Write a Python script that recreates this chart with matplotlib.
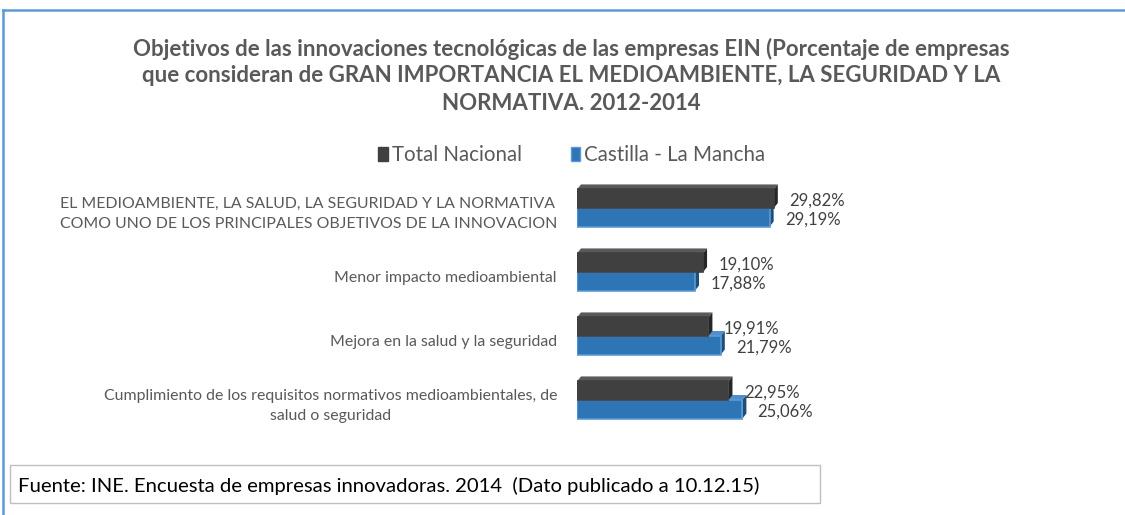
import matplotlib.pyplot as plt
from matplotlib.patches import Polygon, Rectangle, Patch
from matplotlib.lines import Line2D
from matplotlib.transforms import ScaledTranslation

categorias = [
    "EL MEDIOAMBIENTE, LA SALUD, LA SEGURIDAD Y LA NORMATIVA\nCOMO UNO DE LOS PRINCIPALES OBJETIVOS DE LA INNOVACION",
    "Menor impacto medioambiental",
    "Mejora en la salud y la seguridad",
    "Cumplimiento de los requisitos normativos medioambientales, de\nsalud o seguridad",
]
total_nacional = [29.82, 19.10, 19.91, 22.95]
castilla_la_mancha = [29.19, 17.88, 21.79, 25.06]
series = ["Total Nacional", "Castilla - La Mancha"]

plt.rcParams['font.family'] = ['Lato', 'DejaVu Sans']

W, H = 1125, 515
fig = plt.figure(figsize=(W / 100, H / 100), dpi=100)

# axes placed in pixel terms
ax_l, ax_r, ax_t, ax_b = 577, 1107, 170, 440
ax = fig.add_axes([ax_l / W, 1 - ax_b / H, (ax_r - ax_l) / W, (ax_b - ax_t) / H])
px_per_pct = 6.6
ax.set_xlim(0, (ax_r - ax_l) / px_per_pct)
ax.set_ylim((ax_b - 208) / 64, (ax_t - 208) / 64)
ax.axis('off')

h = 0.29
dx = 4 / px_per_pct
dy = 5 / 64

front = {'Total Nacional': '#404040', 'Castilla - La Mancha': '#2E75B6'}
top = {'Total Nacional': '#5a5a5a', 'Castilla - La Mancha': '#4f8fcc'}
side = {'Total Nacional': '#262626', 'Castilla - La Mancha': '#1f4e79'}
edge = {'Total Nacional': '#404040', 'Castilla - La Mancha': '#5B9BD5'}

for i in range(len(categorias)):
    for name, vals, yc, z in [("Castilla - La Mancha", castilla_la_mancha, i + h / 2, 2),
                              ("Total Nacional", total_nacional, i - h / 2, 4)]:
        v = vals[i]
        y0, y1 = yc - h / 2, yc + h / 2  # y0 is the upper edge (axis inverted)
        ax.add_patch(Polygon([(0, y0), (v, y0), (v + dx, y0 - dy), (dx, y0 - dy)],
                             closed=True, fc=top[name], ec='none', zorder=z - 1))
        ax.add_patch(Polygon([(v, y0), (v, y1), (v + dx, y1 - dy), (v + dx, y0 - dy)],
                             closed=True, fc=side[name], ec='none', zorder=z))
        ax.barh(yc, v, height=h, color=front[name], edgecolor=edge[name],
                linewidth=1.2, zorder=z + 0.5)
        ax.text(v + dx + 1.7, yc + 0.03, f"{v:.2f}%".replace('.', ','),
                fontsize=12, color='#404040', va='center', ha='left', zorder=6)

off = ScaledTranslation(-20 / 100, -6 / 100, fig.dpi_scale_trans)
for i, lab in enumerate(categorias):
    ax.text(0, i, lab, transform=ax.transData + off, ha='right', va='center',
            fontsize=11.4, color='#595959', multialignment='center' if i == 3 else 'left',
            linespacing=1.55)

title = [
    "Objetivos de las innovaciones tecnológicas de las empresas EIN (Porcentaje de empresas",
    "que consideran de GRAN IMPORTANCIA EL MEDIOAMBIENTE, LA SEGURIDAD Y LA",
    "NORMATIVA. 2012-2014",
]
for k, line in enumerate(title):
    fig.text(571 / W, 1 - (49 + 27 * k) / H, line, ha='center', va='center',
             fontsize=16, fontweight='bold', color='#595959')

handles = [Patch(facecolor=front[s], edgecolor=edge[s]) for s in series]
fig.legend(handles, series, loc='center', bbox_to_anchor=(572 / W, 1 - 155 / H),
           ncol=2, frameon=False, fontsize=14.8, labelcolor='#595959',
           handlelength=0.45, handleheight=0.65, handletextpad=0.2, columnspacing=2.4)

# source box
fig.add_artist(Rectangle((10 / W, 1 - 503 / H), 810 / W, 38 / H, transform=fig.transFigure,
                         fill=False, ec='#BFBFBF', lw=1))
fig.text(18 / W, 1 - 486 / H, "Fuente: INE. Encuesta de empresas innovadoras. 2014  (Dato publicado a 10.12.15)",
         ha='left', va='center', fontsize=14.6, color='#000000')

# outer frame
fig.add_artist(Line2D([3 / W, 1], [1 - 10 / H, 1 - 10 / H], transform=fig.transFigure,
                      color='#5B9BD5', lw=1.8))
fig.add_artist(Line2D([3 / W, 3 / W], [0, 1 - 10 / H], transform=fig.transFigure,
                      color='#5B9BD5', lw=1.8))

fig.savefig('out.png', dpi=100)
